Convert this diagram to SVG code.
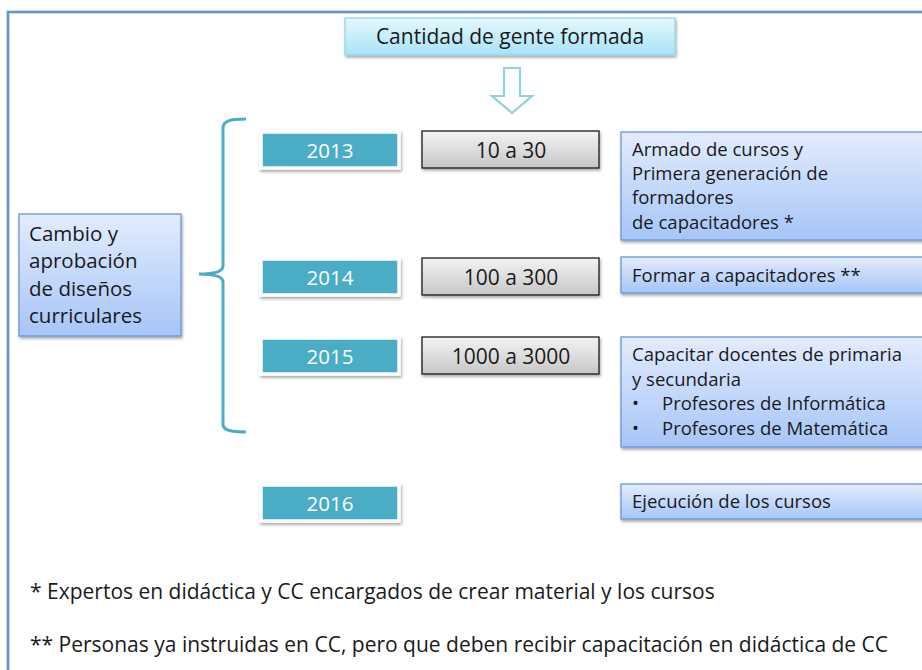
<svg xmlns="http://www.w3.org/2000/svg" width="922" height="670" viewBox="0 0 922 670">
<defs>
<style>
text{font-family:"Open Sans","Noto Sans","Liberation Sans",sans-serif;fill:#1a1a1a}
.yr{fill:#4bacc6;stroke:#ffffff;stroke-width:3.5}
.yrt{fill:#ffffff;font-size:20.5px;text-anchor:middle}
.gray{fill:url(#gGray);stroke:#1a1a1a;stroke-width:1.3}
.grayt{font-size:21px;text-anchor:middle}
.blue{fill:url(#gBlue);stroke:#6a96d6;stroke-width:1.3}
.bt{font-size:18.5px}
.fn{font-size:21px}
</style>
<linearGradient id="gBlue" x1="0" y1="0" x2="0" y2="1">
<stop offset="0" stop-color="#e3ecfd"/><stop offset="1" stop-color="#a6c5f7"/>
</linearGradient>
<linearGradient id="gGray" x1="0" y1="0" x2="0" y2="1">
<stop offset="0" stop-color="#f4f4f4"/><stop offset="1" stop-color="#c6c6c6"/>
</linearGradient>
<linearGradient id="gTitle" x1="0" y1="0" x2="0" y2="1">
<stop offset="0" stop-color="#e6f8fe"/><stop offset="1" stop-color="#a7e3f6"/>
</linearGradient>
<filter id="sh" x="-10%" y="-20%" width="120%" height="150%">
<feDropShadow dx="1" dy="2" stdDeviation="1.5" flood-color="#000" flood-opacity="0.35"/>
</filter>
</defs>
<rect x="0" y="0" width="922" height="670" fill="#ffffff"/>
<g id="frame">
<rect x="8" y="12" width="950" height="700" fill="none" stroke="#c9d9f0" stroke-width="4"/>
<rect x="8" y="12" width="950" height="700" fill="none" stroke="#4f81bd" stroke-width="1.6"/>
</g>
<g id="title">
<rect x="345" y="18" width="330" height="37" fill="url(#gTitle)" stroke="#8fd3e8" stroke-width="1.2" filter="url(#sh)"/>
<text x="510" y="44" font-size="21" text-anchor="middle">Cantidad de gente formada</text>
</g>
<g id="connectors">
<path d="M504,68 H520 V96 H532 L512,113 L492,96 H504 Z" fill="#ffffff" stroke="#93d0e2" stroke-width="2.2" stroke-linejoin="miter"/>
<path d="M246,119 C230,119 223,121 223,128 V266 C223,272 212,274 199,274 C212,274 223,276 223,282 V424 C223,430 230,432 246,432" fill="none" stroke="#4bacc6" stroke-width="3"/>
</g>
<g id="cambio">
<rect x="19" y="214" width="162" height="122" class="blue" filter="url(#sh)"/>
<text x="29" y="241" font-size="20.5">Cambio y</text>
<text x="29" y="268" font-size="20.5">aprobación</text>
<text x="29" y="296" font-size="20.5">de diseños</text>
<text x="29" y="323" font-size="20.5">curriculares</text>
</g>
<g id="y2013">
<rect x="261" y="132" width="138" height="36" class="yr" filter="url(#sh)"/>
<text x="330" y="158" class="yrt">2013</text>
</g>
<g id="y2014">
<rect x="261" y="259" width="138" height="36" class="yr" filter="url(#sh)"/>
<text x="330" y="285" class="yrt">2014</text>
</g>
<g id="y2015">
<rect x="261" y="338" width="138" height="36" class="yr" filter="url(#sh)"/>
<text x="330" y="364" class="yrt">2015</text>
</g>
<g id="y2016">
<rect x="261" y="485" width="138" height="36" class="yr" filter="url(#sh)"/>
<text x="330" y="511" class="yrt">2016</text>
</g>
<g id="n2013">
<rect x="422" y="131" width="177" height="37" class="gray" filter="url(#sh)"/>
<text x="511" y="158" class="grayt">10 a 30</text>
</g>
<g id="n2014">
<rect x="422" y="258" width="177" height="37" class="gray" filter="url(#sh)"/>
<text x="511" y="285" class="grayt">100 a 300</text>
</g>
<g id="n2015">
<rect x="422" y="337" width="177" height="37" class="gray" filter="url(#sh)"/>
<text x="511" y="364" class="grayt">1000 a 3000</text>
</g>
<g id="d2013">
<rect x="621" y="132" width="330" height="108" class="blue" filter="url(#sh)"/>
<text x="632" y="156" class="bt">Armado de cursos y</text>
<text x="632" y="180" class="bt">Primera generación de</text>
<text x="632" y="204" class="bt">formadores</text>
<text x="632" y="229" class="bt">de capacitadores *</text>
</g>
<g id="d2014">
<rect x="621" y="257" width="330" height="36" class="blue" filter="url(#sh)"/>
<text x="632" y="282" class="bt">Formar a capacitadores **</text>
</g>
<g id="d2015">
<rect x="621" y="337" width="330" height="110" class="blue" filter="url(#sh)"/>
<text x="632" y="361" class="bt">Capacitar docentes de primaria</text>
<text x="632" y="386" class="bt">y secundaria</text>
<text x="632" y="410" class="bt">•</text>
<text x="662" y="410" class="bt">Profesores de Informática</text>
<text x="632" y="435" class="bt">•</text>
<text x="662" y="435" class="bt">Profesores de Matemática</text>
</g>
<g id="d2016">
<rect x="621" y="484" width="330" height="35" class="blue" filter="url(#sh)"/>
<text x="632" y="508" class="bt">Ejecución de los cursos</text>
</g>
<g id="notes">
<text x="30" y="599" class="fn">* Expertos en didáctica y CC encargados de crear material y los cursos</text>
<text x="30" y="652" class="fn">** Personas ya instruidas en CC, pero que deben recibir capacitación en didáctica de CC</text>
</g>
</svg>
